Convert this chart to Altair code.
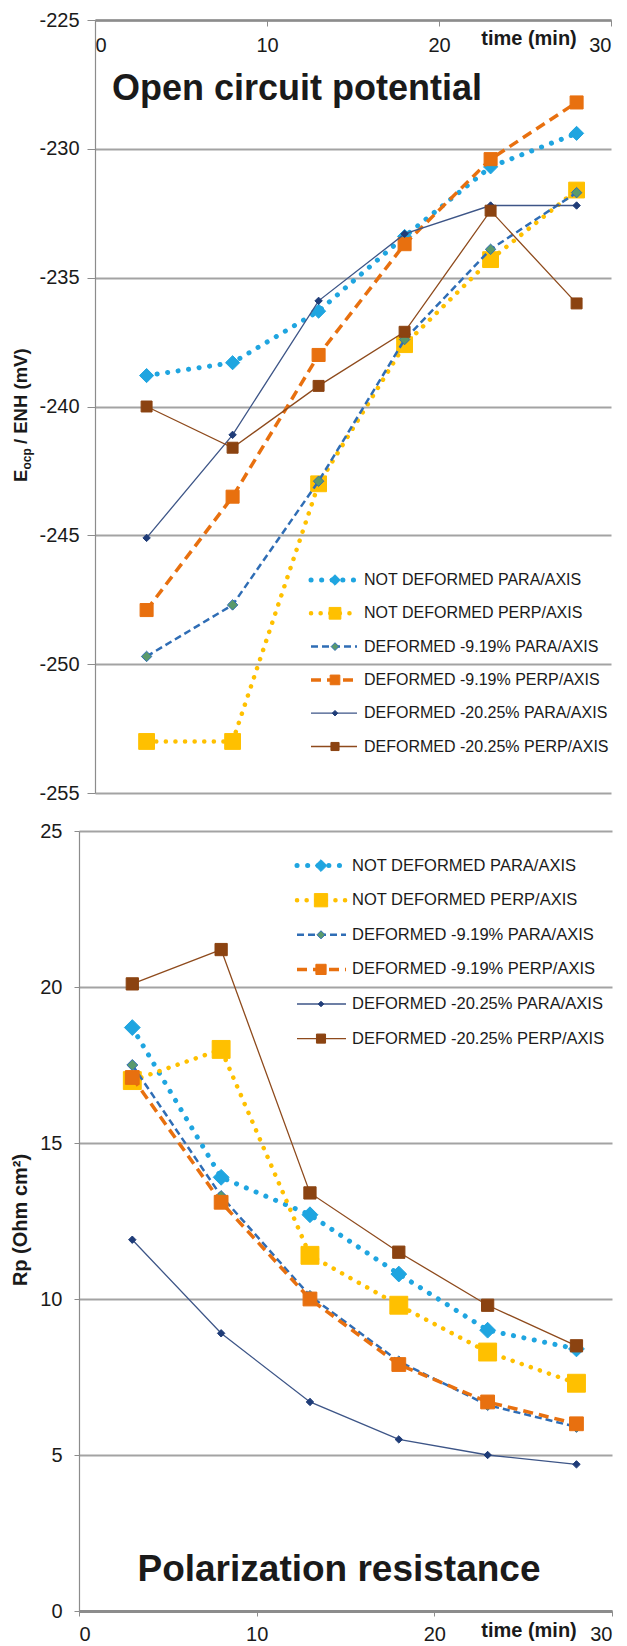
import altair as alt
import pandas as pd

FONT = "Liberation Sans"
INK = "#1a1a1a"

# ---- data ---------------------------------------------------------------
series_names = [
    "NOT DEFORMED  PARA/AXIS",
    "NOT DEFORMED  PERP/AXIS",
    "DEFORMED -9.19% PARA/AXIS",
    "DEFORMED -9.19% PERP/AXIS",
    "DEFORMED -20.25% PARA/AXIS",
    "DEFORMED -20.25% PERP/AXIS",
]
time_min = [3, 8, 13, 18, 23, 28]

# open circuit potential, mV vs ENH
eocp_not_def_para = [-238.8, -238.3, -236.3, -233.4, -230.7, -229.4]
eocp_not_def_perp = [-253.0, -253.0, -243.0, -237.6, -234.3, -231.6]
eocp_def9_para = [-249.7, -247.7, -242.9, -237.4, -233.9, -231.7]
eocp_def9_perp = [-247.9, -243.5, -238.0, -233.7, -230.4, -228.2]
eocp_def20_para = [-245.1, -241.1, -235.9, -233.3, -232.2, -232.2]
eocp_def20_perp = [-240.0, -241.6, -239.2, -237.1, -232.4, -236.0]

# polarization resistance, Ohm cm2
rp_not_def_para = [18.7, 13.9, 12.7, 10.8, 9.0, 8.4]
rp_not_def_perp = [17.0, 18.0, 11.4, 9.8, 8.3, 7.3]
rp_def9_para = [17.5, 13.3, 10.1, 8.0, 6.6, 5.9]
rp_def9_perp = [17.1, 13.1, 10.0, 7.9, 6.7, 6.0]
rp_def20_para = [11.9, 8.9, 6.7, 5.5, 5.0, 4.7]
rp_def20_perp = [20.1, 21.2, 13.4, 11.5, 9.8, 8.5]

x_ticks = [0, 10, 20, 30]
eocp_ticks = [-255, -250, -245, -240, -235, -230, -225]
rp_ticks = [0, 5, 10, 15, 20, 25]

# ---- series styling -----------------------------------------------------
styles = [
    dict(line="#1fa5e0", fill="#1fa5e0", edge="#1fa5e0", shape="diamond",
         size=(200, 250), width=5, dash=[0.1, 10.5], cap="round"),
    dict(line="#ffc000", fill="#ffc000", edge="#ffc000", shape="square",
         size=(250, 320), width=4.5, dash=[0.1, 9.5], cap="round"),
    dict(line="#2f6db5", fill="#5a9a6c", edge="#2f6db5", shape="diamond",
         size=(110, 120), width=2.5, dash=[7, 4], cap="butt"),
    dict(line="#e8700f", fill="#e8700f", edge="#e8700f", shape="square",
         size=(170, 190), width=3.5, dash=[10, 6], cap="butt"),
    dict(line="#3d5587", fill="#1f3c78", edge="#1f3c78", shape="diamond",
         size=(55, 55), width=1.3, dash=None, cap="butt"),
    dict(line="#8e4a1c", fill="#8b4311", edge="#8b4311", shape="square",
         size=(120, 150), width=1.3, dash=None, cap="butt"),
]
LEGEND_MARKER_SCALE = 0.55


def line_props(st):
    props = dict(color=st["line"], strokeWidth=st["width"], strokeCap=st["cap"])
    if st["dash"]:
        props["strokeDash"] = st["dash"]
    return props


def point_props(st, k, scale=1.0):
    return dict(shape=st["shape"], size=st["size"][k] * scale, filled=True,
                fill=st["fill"], stroke=st["edge"], strokeWidth=1, opacity=1)


def text_at(text, x, y, **kw):
    return alt.Chart(pd.DataFrame({"t": [text]})).mark_text(font=FONT, color=INK, **kw).encode(
        x=alt.value(x), y=alt.value(y), text="t:N")


def panel(values, k, width, height, x_range, y_domain, x_axis, y_axis, legend, extras):
    xs = alt.Scale(domain=[0, 30], range=x_range, nice=False)
    ys = alt.Scale(domain=y_domain, nice=False, zero=False)
    layers = []
    for name, vals, st in zip(series_names, values, styles):
        df = pd.DataFrame({"time": time_min, "value": vals, "series": name})
        base = alt.Chart(df).encode(
            x=alt.X("time:Q", scale=xs, axis=x_axis),
            y=alt.Y("value:Q", scale=ys, axis=y_axis),
        )
        layers.append(base.mark_line(**line_props(st)))
        layers.append(base.mark_point(**point_props(st, k)))

    # legend block
    x0, x1, xm, xt, y0, dy, fs = legend
    for i, (name, st) in enumerate(zip(series_names, styles)):
        yy = y0 + i * dy
        one = alt.Chart(pd.DataFrame({"t": [name]}))
        layers.append(one.mark_rule(**line_props(st)).encode(
            x=alt.value(x0), x2=alt.value(x1), y=alt.value(yy)))
        layers.append(one.mark_point(**point_props(st, k, LEGEND_MARKER_SCALE)).encode(
            x=alt.value(xm), y=alt.value(yy)))
        layers.append(one.mark_text(font=FONT, fontSize=fs, color=INK, align="left",
                                    baseline="middle").encode(
            x=alt.value(xt), y=alt.value(yy), text="t:N"))

    layers.extend(extras)
    return alt.layer(*layers).properties(width=width, height=height)


axis_common = dict(labelFont=FONT, labelFontSize=20, labelColor=INK, title=None,
                   labelExpr="'' + datum.value")

# ---- open circuit potential ---------------------------------------------
# the time axis of this panel is inset 16 px from the panel's left edge
H1 = 773
INSET = 16
top = panel(
    [eocp_not_def_para, eocp_not_def_perp, eocp_def9_para, eocp_def9_perp,
     eocp_def20_para, eocp_def20_perp],
    0, 532, H1, [INSET, 532], [-255, -225],
    alt.Axis(orient="bottom", offset=-H1, values=x_ticks, grid=False, tickSize=6,
             tickColor="#8c8c8c", labelPadding=9, domainColor="#8c8c8c",
             domainWidth=2.5, **axis_common),
    alt.Axis(values=eocp_ticks, offset=-INSET, grid=True, gridColor="#a3a3a3",
             gridWidth=1.8, domainColor="#8c8c8c", domainWidth=1.2, tickSize=8,
             tickColor="#8c8c8c", labelPadding=8, **axis_common),
    (232, 278, 256, 285, 560, 33.3, 16),
    [
        text_at("Open circuit potential", 218, 80, fontSize=36, fontWeight="bold",
                align="center", baseline="alphabetic"),
        text_at("time (min)", 450, 25, fontSize=20, fontWeight="bold",
                align="center", baseline="alphabetic"),
        text_at("E", -52, 462, fontSize=18.5, fontWeight="bold", angle=270,
                align="left", baseline="alphabetic"),
        text_at("ocp", -48, 449.5, fontSize=12, fontWeight="bold", angle=270,
                align="left", baseline="alphabetic"),
        text_at("/ ENH (mV)", -52, 424, fontSize=18.5, fontWeight="bold", angle=270,
                align="left", baseline="alphabetic"),
    ],
)

# ---- polarization resistance --------------------------------------------
H2 = 780
bottom = panel(
    [rp_not_def_para, rp_not_def_perp, rp_def9_para, rp_def9_perp,
     rp_def20_para, rp_def20_perp],
    1, 533, H2, [0, 533], [0, 25],
    alt.Axis(values=x_ticks, grid=False, tickSize=5, tickColor="#8c8c8c",
             labelPadding=8, domainColor="#8c8c8c", domainWidth=3, **axis_common),
    alt.Axis(values=rp_ticks, grid=True, gridColor="#a3a3a3", gridWidth=1.8,
             domainColor="#8c8c8c", domainWidth=1.2, tickSize=5, tickColor="#8c8c8c",
             labelPadding=12, **axis_common),
    (218, 267, 242, 273, 34.6, 34.6, 16.5),
    [
        text_at("Polarization resistance", 260, 750, fontSize=37, fontWeight="bold",
                align="center", baseline="alphabetic"),
        text_at("time (min)", 450, 806, fontSize=20, fontWeight="bold",
                align="center", baseline="alphabetic"),
        text_at("Rp (Ohm cm\u00b2)", -52, 389, fontSize=20, fontWeight="bold", angle=270,
                align="center", baseline="alphabetic"),
    ],
)

chart = alt.vconcat(top, bottom, spacing=18).properties(
    padding={"left": 11, "top": 10, "right": 0, "bottom": 0},
    background="white",
).configure_view(stroke=None)

chart.save("out.html", embed_options={"renderer": "svg", "actions": False})
